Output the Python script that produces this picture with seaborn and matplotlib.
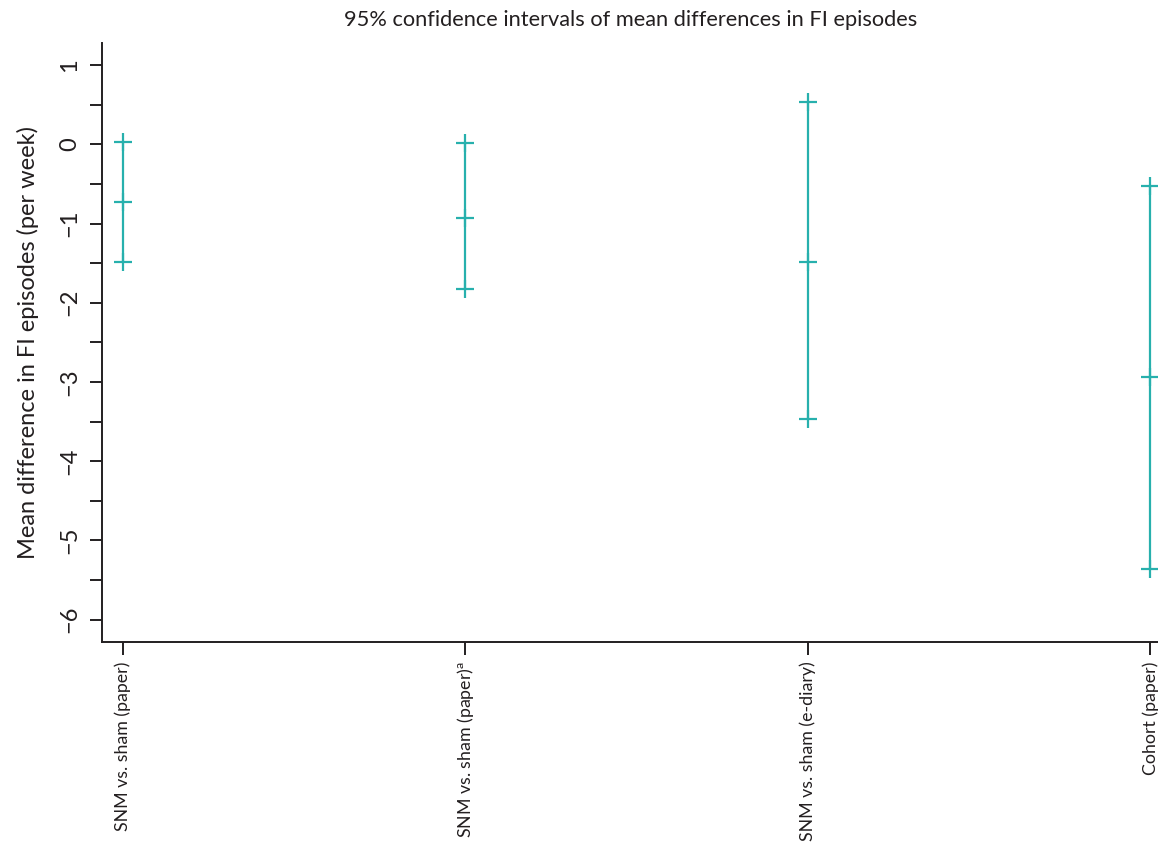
import numpy as np
import pandas as pd
import matplotlib
matplotlib.use("Agg")
import matplotlib.pyplot as plt
import seaborn as sns

# Comparisons and their 95% CI (lower, mean, upper) for FI episodes per week
comparisons = [
    "SNM vs. sham (paper)",
    "SNM vs. sham (paper)$^{\\mathrm{a}}$",
    "SNM vs. sham (e-diary)",
    "Cohort (paper)",
]
mean_diff = [-0.73, -0.93, -1.48, -2.94]
ci_lower = [-1.49, -1.83, -3.47, -5.36]
ci_upper = [0.03, 0.02, 0.53, -0.52]

y_ticks = np.arange(-6, 1.01, 0.5)
y_labels = [f"{int(v)}".replace("-", "\u2212") if float(v).is_integer() else "" for v in y_ticks]

sns.set_theme(style="ticks")
plt.rcParams["font.family"] = ["Lato", "DejaVu Sans"]
plt.rcParams["mathtext.fontset"] = "custom"
plt.rcParams["mathtext.rm"] = "Lato"
plt.rcParams["mathtext.it"] = "Lato:italic"

teal = "#27B0AD"
ink = "#231F20"

pos = np.arange(1, len(comparisons) + 1)
points = pd.DataFrame({
    "pos": np.concatenate([pos, pos, pos]),
    "value": np.concatenate([ci_lower, mean_diff, ci_upper]),
})

fig = plt.figure(figsize=(11.58, 8.47), dpi=100)
ax = fig.add_axes([0.0881, 0.2424, 0.9231, 0.7068])

ax.vlines(pos, ci_lower, ci_upper, color=teal, linewidth=1.6, zorder=2)
sns.scatterplot(data=points, x="pos", y="value", marker="+", s=150,
                color=teal, linewidth=1.6, ax=ax, zorder=3, legend=False)

ax.set_xlim(0.94, 4.06)
ax.set_ylim(-6.28, 1.28)
ax.set_xticks(pos)
ax.set_xticklabels(comparisons, rotation=90, fontsize=12.8, color=ink, va="top")
ax.set_yticks(y_ticks)
ax.set_yticklabels(y_labels, rotation=90, fontsize=17, color=ink, va="center")
ax.tick_params(axis="both", direction="out", length=9, width=1.4, color=ink, pad=5)
ax.tick_params(axis="y", pad=7)

for side in ("top", "right"):
    ax.spines[side].set_visible(False)
for side in ("left", "bottom"):
    ax.spines[side].set_color(ink)
    ax.spines[side].set_linewidth(1.4)

ax.set_xlabel("")
ax.set_ylabel("Mean difference in FI episodes (per week)", fontsize=17,
              color=ink, labelpad=14)
fig.text(0.545, 0.976, "95% confidence intervals of mean differences in FI episodes",
         ha="center", va="center", fontsize=15.7, color=ink)

fig.savefig("out.png", dpi=100)
